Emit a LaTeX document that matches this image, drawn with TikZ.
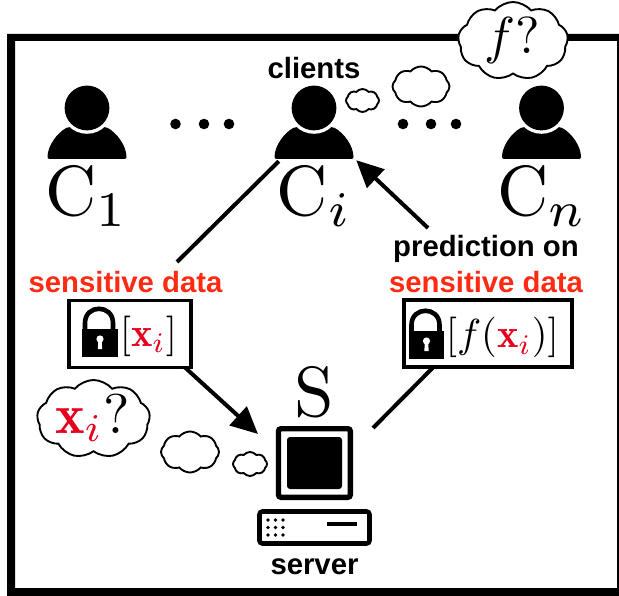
\documentclass[tikz,border=0pt]{standalone}
\usepackage{fontspec}
\newfontfamily\labfont{Liberation Sans}
\usetikzlibrary{arrows.meta,shapes.symbols}
\definecolor{labred}{HTML}{FF2A12}
\definecolor{mathred}{HTML}{E5001E}
\tikzset{
  x=1pt,y=-1pt,
  lab/.style={font=\labfont\fontsize{29.3}{29.3}\selectfont\bfseries,anchor=base,inner sep=0pt},
  biglab/.style={scale=7.1,anchor=base west,inner sep=0pt},
  boxtext/.style={scale=4.05,anchor=base west,inner sep=0pt},
  lockbox/.style={draw,line width=3.6pt,fill=white,inner sep=0pt},
  ghost/.style={inner sep=0pt,minimum width=80pt},
  thought/.style={cloud,draw,fill=white,line width=1.9pt,inner sep=0pt,cloud puff arc=100,aspect=1.4},
  conn/.style={line width=4pt},
  head/.style={-{Triangle[length=27pt,width=25pt]}},
  person/.pic={
    \fill[rounded corners=2pt] (-39.5,51) .. controls (-39.5,38) and (-30,25) .. (-19,19)
       -- (19,19) .. controls (30,25) and (39.5,38) .. (39.5,51) -- cycle;
    \fill[white] (0,0) circle (25.8pt);
    \fill (0,0) circle (22.4pt);
  },
  padlock/.pic={
    \fill (0,0) rectangle (35.5,28);
    \draw[line width=4.6pt] (3,0) -- (3,-6) .. controls (3,-25) and (31,-25) .. (31,-6) -- (31,0);
    \fill[white] (18,10) circle (3.6pt);
    \fill[white] (16.4,11) -- (19.6,11) -- (20.2,20) -- (15.8,20) -- cycle;
  },
}
\begin{document}
\begin{tikzpicture}
\useasboundingbox (0,0) rectangle (619,596);
% frame
\fill[even odd rule] (7,34) rectangle (619,596) (15,41) rectangle (617,588);
% clients
\path (87,108) pic {person};
\path (314,108) pic {person};
\path (541.5,108) pic {person};
\node[ghost,minimum height=75pt] (c1) at (87,122.5) {};
\node[ghost,minimum height=75pt] (ci) at (316,122.5) {};
\node[ghost,minimum height=75pt] (cn) at (541.5,122.5) {};
\node[biglab] (lc1) at (44,215.5) {$\mathrm{C}_1$};
\node[biglab] (lci) at (275.5,215.5) {$\mathrm{C}_i$};
\node[biglab] (lcn) at (496,215.5) {$\mathrm{C}_n$};
\node[lab] (clients) at (314,79) {clients};
% ellipsis dots
\foreach \n/\px in {a/175.5,b/204,c/229,d/403,e/431,f/456}
  \node[circle,fill,inner sep=0pt,minimum size=10.6pt] (dot\n) at (\px,124) {};
% thought clouds
\node[thought,cloud puffs=9,minimum width=110pt,minimum height=78pt] (cf) at (513,41) {};
\node[scale=5.2,inner sep=0pt,anchor=base] (ftext) at (512,54) {$f?$};
\node[thought,cloud puffs=8,minimum width=57pt,minimum height=40pt] (cm1) at (421,86.5) {};
\node[thought,cloud puffs=8,minimum width=33pt,minimum height=23pt] (cs1) at (362.5,100.5) {};
\node[thought,cloud puffs=9,minimum width=113pt,minimum height=78pt] (cx) at (93.5,419) {};
\node[scale=5.6,inner sep=0pt,anchor=base] (xtext) at (92.5,433) {$\textcolor{mathred}{\mathbf{x}_i}?$};
\node[thought,cloud puffs=8,minimum width=58pt,minimum height=41pt] (cm2) at (190,452) {};
\node[thought,cloud puffs=8,minimum width=34pt,minimum height=24pt] (cs2) at (250,464) {};
% lock boxes
\node[lockbox,minimum width=122pt,minimum height=67pt] (lbA) at (130,334) {};
\node[lockbox,minimum width=168pt,minimum height=67pt] (lbB) at (488,333.5) {};
\path (82,329) pic {padlock};
\path (408.5,331) pic {padlock};
\node[boxtext] (ta) at (119,346) {$[\textcolor{mathred}{\mathbf{x}_i}]$};
\node[boxtext] (tb) at (445,348) {$[f(\textcolor{mathred}{\mathbf{x}_i})]$};
% labels
\node[lab,text=labred] (sa) at (125.5,292.5) {sensitive data};
\node[lab] (pred) at (486,257) {prediction on};
\node[lab,text=labred] (sb) at (486,292.5) {sensitive data};
% server
\node[inner sep=0pt,minimum width=118pt,minimum height=74pt] (srv) at (314,463) {};
\draw[line width=5.4pt,rounded corners=2.5pt] (278.5,428.7) rectangle (350.3,497.3);
\fill[rounded corners=3pt] (287,437) rectangle (342,489);
\draw[line width=4.6pt,rounded corners=3pt] (259.5,511.5) rectangle (369.5,543.5);
\foreach \dx in {268,275.5,283} \foreach \dy in {520,527.5,535}
  \fill (\dx,\dy) circle (1.9pt);
\draw[line width=4pt] (327,524) -- (357,524);
\node[lab] (server) at (314.5,574) {server};
\node[biglab,anchor=base] (ls) at (314,416) {$\mathrm{S}$};
% connectors
\coordinate (ltop) at (177,262);
\coordinate (rtop) at (428,228);
\coordinate (lbot) at (258,434);
\coordinate (rbot) at (373,428);
\coordinate (rbox) at (433,367.5);
\coordinate (lbox) at (185,367.5);
\draw[conn] ([shift={(3,1)}]ci.south west) -- (ltop);
\draw[conn,head] (rtop) -- (ci.south east);
\draw[conn,head] (lbox) -- (lbot);
\draw[conn] (rbot) -- (rbox);
\end{tikzpicture}
\end{document}
